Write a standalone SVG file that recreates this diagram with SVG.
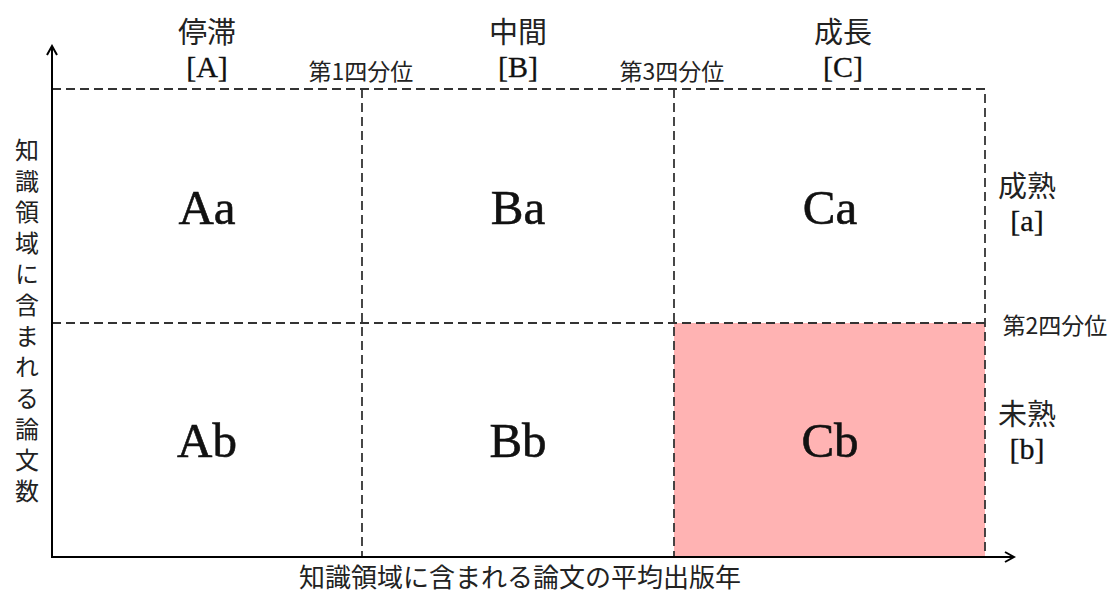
<svg xmlns="http://www.w3.org/2000/svg" width="1115" height="592" viewBox="0 0 1115 592">
<style>
.t{font-family:"Liberation Serif","Noto Sans CJK JP",serif;fill:#111;text-anchor:middle}
.j{font-family:"Noto Sans CJK JP","Liberation Serif",sans-serif;fill:#222;text-anchor:middle}
.cell{font-size:49px;stroke:#111;stroke-width:0.6}
.hd{font-size:29px}
.hdl{font-size:30px;stroke:#111;stroke-width:0.3}
.q{font-size:23px}
.vert{writing-mode:vertical-rl;text-anchor:start;font-size:24px;letter-spacing:7px}
.dash{stroke:#333;stroke-width:1.8;stroke-dasharray:9 5;fill:none}
.axis{stroke:#000;stroke-width:2;fill:none}
</style>
<defs>
<marker id="arr" viewBox="0 0 12 12" refX="10" refY="6" markerWidth="12" markerHeight="12" markerUnits="userSpaceOnUse" orient="auto">
<path d="M1,1 L10,6 L1,11" fill="none" stroke="#000" stroke-width="2"/>
</marker>
</defs>
<rect width="1115" height="592" fill="#fff"/>
<g id="highlight">
<rect x="674" y="323" width="311" height="233" fill="#FFB3B3"/>
</g>
<g id="connectors">
<path class="dash" d="M52,89 H985 V556"/>
<path class="dash" d="M52,323 H985"/>
<path class="dash" d="M362,89 V556"/>
<path class="dash" d="M674,89 V556"/>
<path class="axis" d="M52,557 V46" marker-end="url(#arr)"/>
<path class="axis" d="M51,557 H1014" marker-end="url(#arr)"/>
</g>
<g id="Aa"><text class="t cell" x="207" y="224">Aa</text></g>
<g id="Ba"><text class="t cell" x="518" y="224">Ba</text></g>
<g id="Ca"><text class="t cell" x="830" y="224">Ca</text></g>
<g id="Ab"><text class="t cell" x="207" y="457">Ab</text></g>
<g id="Bb"><text class="t cell" x="518" y="457">Bb</text></g>
<g id="Cb"><text class="t cell" x="830" y="457">Cb</text></g>
<g id="colA"><text class="j hd" x="207" y="43">停滞</text><text class="t hdl" x="207" y="77">[A]</text></g>
<g id="colB"><text class="j hd" x="518" y="43">中間</text><text class="t hdl" x="518" y="77">[B]</text></g>
<g id="colC"><text class="j hd" x="843" y="43">成長</text><text class="t hdl" x="843" y="77">[C]</text></g>
<g id="q1"><text class="j q" x="361" y="80">第1四分位</text></g>
<g id="q3"><text class="j q" x="672" y="80">第3四分位</text></g>
<g id="q2"><text class="j q" x="1055" y="334">第2四分位</text></g>
<g id="rowa"><text class="j hd" x="1027" y="197">成熟</text><text class="t hdl" x="1027" y="231">[a]</text></g>
<g id="rowb"><text class="j hd" x="1027" y="425">未熟</text><text class="t hdl" x="1027" y="459">[b]</text></g>
<g id="ylabel"><text class="j vert" x="27" y="138">知識領域に含まれる論文数</text></g>
<g id="xlabel"><text class="j" style="font-size:26px" x="520" y="587">知識領域に含まれる論文の平均出版年</text></g>
</svg>
